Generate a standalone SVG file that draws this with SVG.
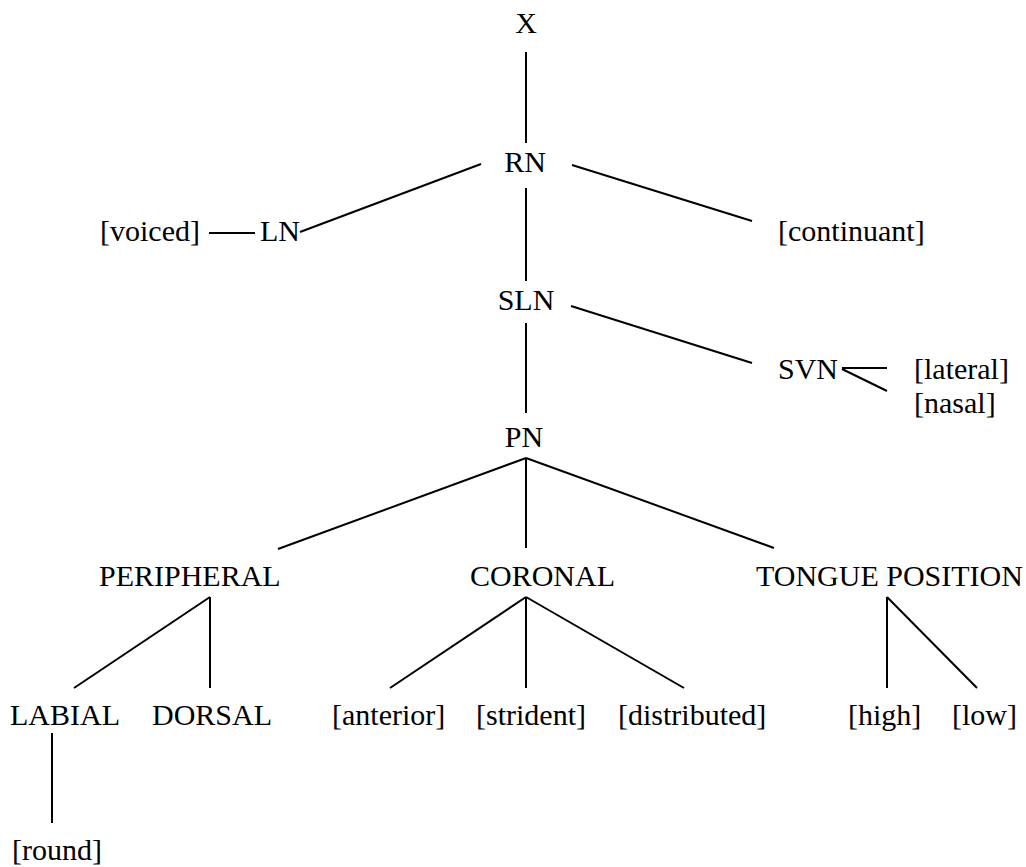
<svg xmlns="http://www.w3.org/2000/svg" width="1026" height="867" viewBox="0 0 1026 867">
<style>
text{font-family:"Liberation Serif","Times New Roman",serif;font-size:30px;fill:#000}
.m{text-anchor:middle}
#edges line{stroke:#000;stroke-width:2;fill:none}
</style>
<rect width="1026" height="867" fill="#fff"/>
<g id="edges">
<line x1="526" y1="52" x2="526" y2="143"/>
<line x1="481" y1="164" x2="300" y2="232"/>
<line x1="572" y1="165" x2="752" y2="221"/>
<line x1="526" y1="188" x2="526" y2="281"/>
<line x1="209" y1="233" x2="255" y2="233"/>
<line x1="571" y1="306" x2="752" y2="363"/>
<line x1="526" y1="323" x2="526" y2="413"/>
<line x1="842" y1="368" x2="887" y2="368"/>
<line x1="842" y1="369" x2="887" y2="391"/>
<line x1="526" y1="458" x2="278" y2="549"/>
<line x1="526" y1="458" x2="526" y2="548"/>
<line x1="526" y1="458" x2="774" y2="548"/>
<line x1="210" y1="597" x2="74" y2="688"/>
<line x1="210" y1="597" x2="210" y2="688"/>
<line x1="526" y1="597" x2="390" y2="688"/>
<line x1="526" y1="597" x2="526" y2="688"/>
<line x1="526" y1="597" x2="684" y2="688"/>
<line x1="887" y1="597" x2="887" y2="688"/>
<line x1="887" y1="597" x2="977" y2="688"/>
<line x1="52" y1="733" x2="52" y2="823"/>
</g>
<g id="n-x"><text class="m" x="526" y="33">X</text></g>
<g id="n-rn"><text class="m" x="525" y="172">RN</text></g>
<g id="n-voiced"><text x="100" y="241">[voiced]</text></g>
<g id="n-ln"><text x="260" y="241">LN</text></g>
<g id="n-continuant"><text x="778" y="241">[continuant]</text></g>
<g id="n-sln"><text class="m" x="526" y="310">SLN</text></g>
<g id="n-svn"><text x="778" y="379">SVN</text></g>
<g id="n-lateral"><text x="914" y="379">[lateral]</text></g>
<g id="n-nasal"><text x="914" y="413">[nasal]</text></g>
<g id="n-pn"><text class="m" x="524" y="447">PN</text></g>
<g id="n-peripheral"><text x="99" y="586">PERIPHERAL</text></g>
<g id="n-coronal"><text x="470" y="586">CORONAL</text></g>
<g id="n-tongue"><text x="756" y="586">TONGUE POSITION</text></g>
<g id="n-labial"><text x="10" y="725">LABIAL</text></g>
<g id="n-dorsal"><text x="152" y="725">DORSAL</text></g>
<g id="n-anterior"><text x="332" y="725">[anterior]</text></g>
<g id="n-strident"><text x="476" y="725">[strident]</text></g>
<g id="n-distributed"><text x="618" y="725">[distributed]</text></g>
<g id="n-high"><text x="848" y="725">[high]</text></g>
<g id="n-low"><text x="952" y="725">[low]</text></g>
<g id="n-round"><text x="12" y="860">[round]</text></g>
</svg>
